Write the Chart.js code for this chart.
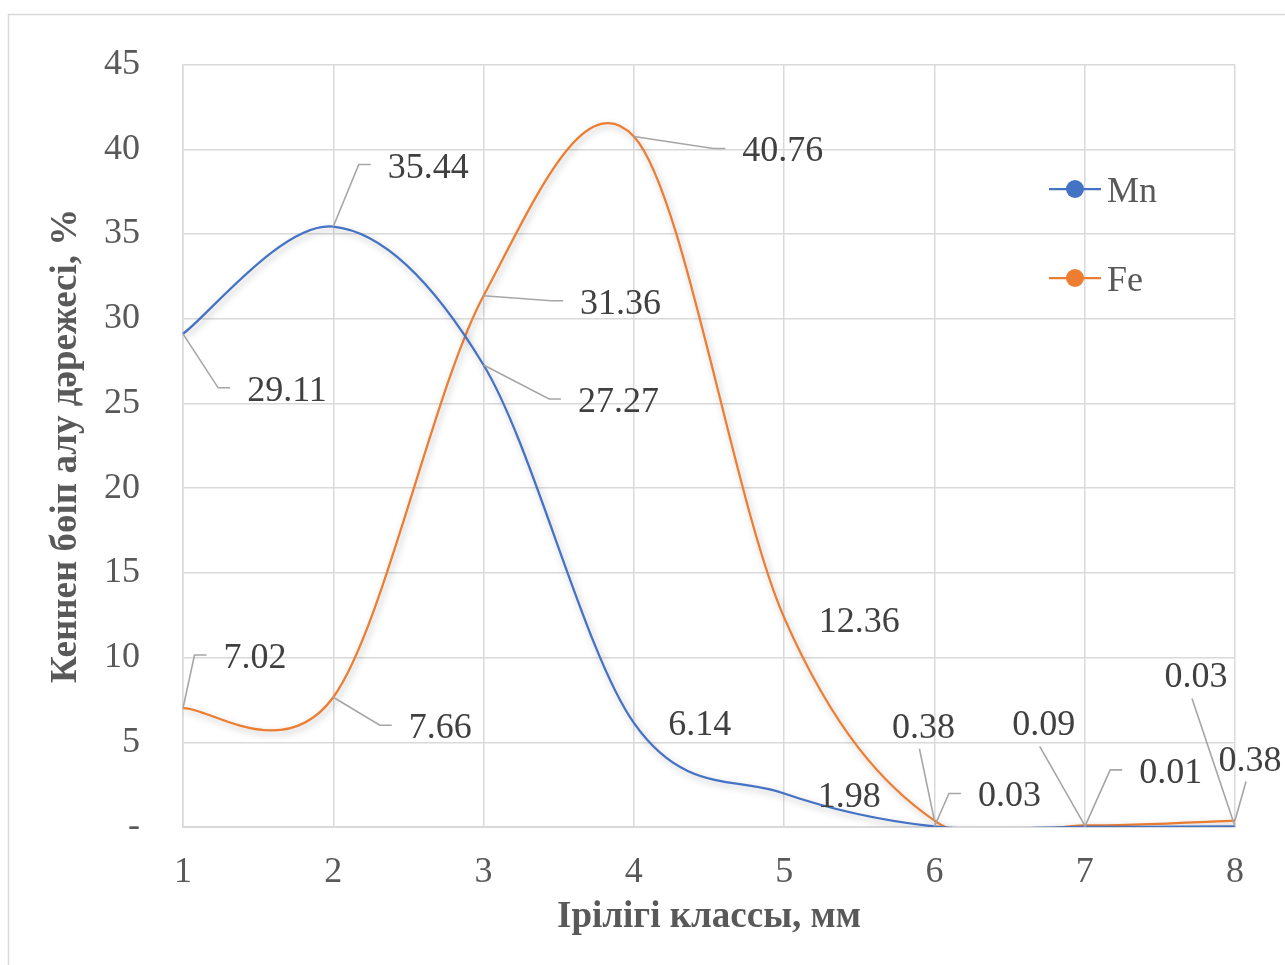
<!DOCTYPE html>
<html>
<head>
<meta charset="utf-8">
<script src="https://cdn.jsdelivr.net/npm/chart.js@4"></script>
<style>
  html, body { margin: 0; padding: 0; background: #fff; }
  #wrap { width: 1285px; height: 965px; }
</style>
</head>
<body>
<div id="wrap"><canvas id="chart" width="1285" height="965"></canvas></div>
<script>
// Ірілігі классы (x) and recovery per class for each metal
const sizeClasses = ['1', '2', '3', '4', '5', '6', '7', '8'];
const mnValues = [29.11, 35.44, 27.27, 6.14, 1.98, 0.03, 0.01, 0.03];
const feValues = [7.02, 7.66, 31.36, 40.76, 12.36, 0.38, 0.09, 0.38];
const yMin = 0;
const yMax = 45;
const yStep = 5;

// where each value label sits relative to its point: [dx, baseline dy], and whether it gets a leader line
const mnLabelOffsets = [[104, 67], [95, -49], [135, 47], [66, 12], [65, 14], [75, -20], [86, -44], [-39, -139]];
const feLabelOffsets = [[72, -40], [107, 41], [137, 18], [149, 25], [75, 14], [-11, -83], [-41, -90], [15, -50]];
const mnLeaders = [true, true, true, false, false, true, true, true];
const feLeaders = [true, true, true, true, false, true, true, true];

const FONT = "'Liberation Serif', 'Times New Roman', 'DejaVu Serif', serif";
Chart.defaults.font.family = FONT;

// Excel-like smoothing: uniform Catmull-Rom control points
const catmullRom = {
    id: 'catmullRom',
    beforeDatasetDraw(chart, args) {
        const line = args.meta.dataset;
        line.updateControlPoints(chart.chartArea, 'x');
        const pts = args.meta.data;
        pts.forEach((p, i) => {
            const prev = pts[i - 1] || p;
            const next = pts[i + 1] || p;
            const mx = (next.x - prev.x) / 6;
            const my = (next.y - prev.y) / 6;
            p.cp1x = p.x - mx; p.cp1y = p.y - my;
            p.cp2x = p.x + mx; p.cp2y = p.y + my;
        });
        line._path = undefined;
        // soft shadow under the curves
        const ctx = chart.ctx;
        ctx.save();
        ctx.shadowColor = 'rgba(0,0,0,0.28)';
        ctx.shadowBlur = 7;
        ctx.shadowOffsetX = 2;
        ctx.shadowOffsetY = 3;
    },
    afterDatasetDraw(chart) {
        chart.ctx.restore();
    }
};

const frame = {
    id: 'frame',
    beforeDraw(chart) {
        const ctx = chart.ctx;
        ctx.save();
        ctx.fillStyle = '#ffffff';
        ctx.fillRect(0, 0, chart.width, chart.height);
        ctx.strokeStyle = '#d9d9d9';
        ctx.lineWidth = 1.5;
        ctx.strokeRect(8.5, 14.5, 1400, 1100);
        ctx.restore();
    }
};

// value labels with grey leader lines
const valueLabels = {
    id: 'valueLabels',
    afterDatasetsDraw(chart) {
        const ctx = chart.ctx;
        const offsets = [mnLabelOffsets, feLabelOffsets];
        const leaders = [mnLeaders, feLeaders];
        ctx.save();
        ctx.font = '36px ' + FONT;
        ctx.textAlign = 'center';
        ctx.textBaseline = 'alphabetic';
        chart.data.datasets.forEach((ds, di) => {
            const meta = chart.getDatasetMeta(di);
            meta.data.forEach((pt, i) => {
                const text = ds.data[i].toFixed(2);
                const [dx, dy] = offsets[di][i];
                const cx = pt.x + dx;
                const base = pt.y + dy;
                const w = ctx.measureText(text).width;
                const left = cx - w / 2, right = cx + w / 2;
                const top = base - 25, mid = base - 13;
                if (leaders[di][i]) {
                    ctx.strokeStyle = '#a6a6a6';
                    ctx.lineWidth = 1.6;
                    ctx.beginPath();
                    ctx.moveTo(pt.x, pt.y);
                    if (left > pt.x + 20) {
                        ctx.lineTo(left - 29, mid);
                        ctx.lineTo(left - 17, mid);
                    } else if (right < pt.x - 20) {
                        ctx.lineTo(right + 29, mid);
                        ctx.lineTo(right + 17, mid);
                    } else if (top > pt.y) {
                        ctx.lineTo(cx - 4, top - 11);
                    } else {
                        ctx.lineTo(cx - 4, base + 11);
                    }
                    ctx.stroke();
                }
                ctx.fillStyle = '#404040';
                ctx.fillText(text, cx, base);
            });
        });
        ctx.restore();
    }
};

// legend inside the plot, stacked vertically
const sideLegend = {
    id: 'sideLegend',
    afterDraw(chart) {
        const ctx = chart.ctx;
        const rows = [189, 278];
        ctx.save();
        chart.data.datasets.forEach((ds, i) => {
            const y = rows[i];
            ctx.strokeStyle = ds.borderColor;
            ctx.lineWidth = 2.25;
            ctx.beginPath();
            ctx.moveTo(1049, y);
            ctx.lineTo(1101, y);
            ctx.stroke();
            ctx.fillStyle = ds.borderColor;
            ctx.beginPath();
            ctx.arc(1075, y, 9, 0, Math.PI * 2);
            ctx.fill();
            ctx.fillStyle = '#595959';
            ctx.font = '36px ' + FONT;
            ctx.textAlign = 'left';
            ctx.textBaseline = 'alphabetic';
            ctx.fillText(ds.label, 1107, y + 13);
        });
        ctx.restore();
    }
};

new Chart(document.getElementById('chart'), {
    type: 'line',
    data: {
        labels: sizeClasses,
        datasets: [
            {
                label: 'Mn',
                data: mnValues,
                borderColor: '#4472c4',
                backgroundColor: '#4472c4',
                borderWidth: 2.25,
                pointRadius: 0,
                tension: 0.4,
                fill: false
            },
            {
                label: 'Fe',
                data: feValues,
                borderColor: '#ed7d31',
                backgroundColor: '#ed7d31',
                borderWidth: 2.25,
                pointRadius: 0,
                tension: 0.4,
                fill: false
            }
        ]
    },
    options: {
        responsive: false,
        animation: false,
        devicePixelRatio: 1,
        layout: { padding: { top: 61, right: 50, left: 0, bottom: 0 } },
        plugins: {
            legend: { display: false },
            tooltip: { enabled: false }
        },
        scales: {
            x: {
                offset: false,
                grid: { color: '#d9d9d9', lineWidth: 1.5, drawTicks: false, offset: false },
                border: { color: '#d9d9d9', width: 2 },
                ticks: { color: '#595959', font: { size: 36 }, padding: 24, maxRotation: 0 },
                title: {
                    display: true,
                    text: 'Ірілігі классы, мм',
                    color: '#595959',
                    font: { size: 37, weight: 'bold' },
                    padding: { top: 0, bottom: 25 }
                },
                afterFit(scale) { scale.height = 138; }
            },
            y: {
                min: yMin,
                max: yMax,
                ticks: {
                    stepSize: yStep,
                    color: '#595959',
                    font: { size: 36 },
                    padding: 43,
                    callback: v => v === 0 ? '-' : v
                },
                grid: { color: '#d9d9d9', lineWidth: 1.5, drawTicks: false },
                border: { color: '#d9d9d9', width: 1.5 },
                title: {
                    display: true,
                    text: 'Кеннен бөіп алу дәрежесі, %',
                    color: '#595959',
                    font: { size: 37, weight: 'bold' },
                    padding: { top: 44, bottom: 0 }
                },
                afterFit(scale) { scale.width = 183; }
            }
        }
    },
    plugins: [frame, catmullRom, valueLabels, sideLegend]
});
</script>
</body>
</html>
